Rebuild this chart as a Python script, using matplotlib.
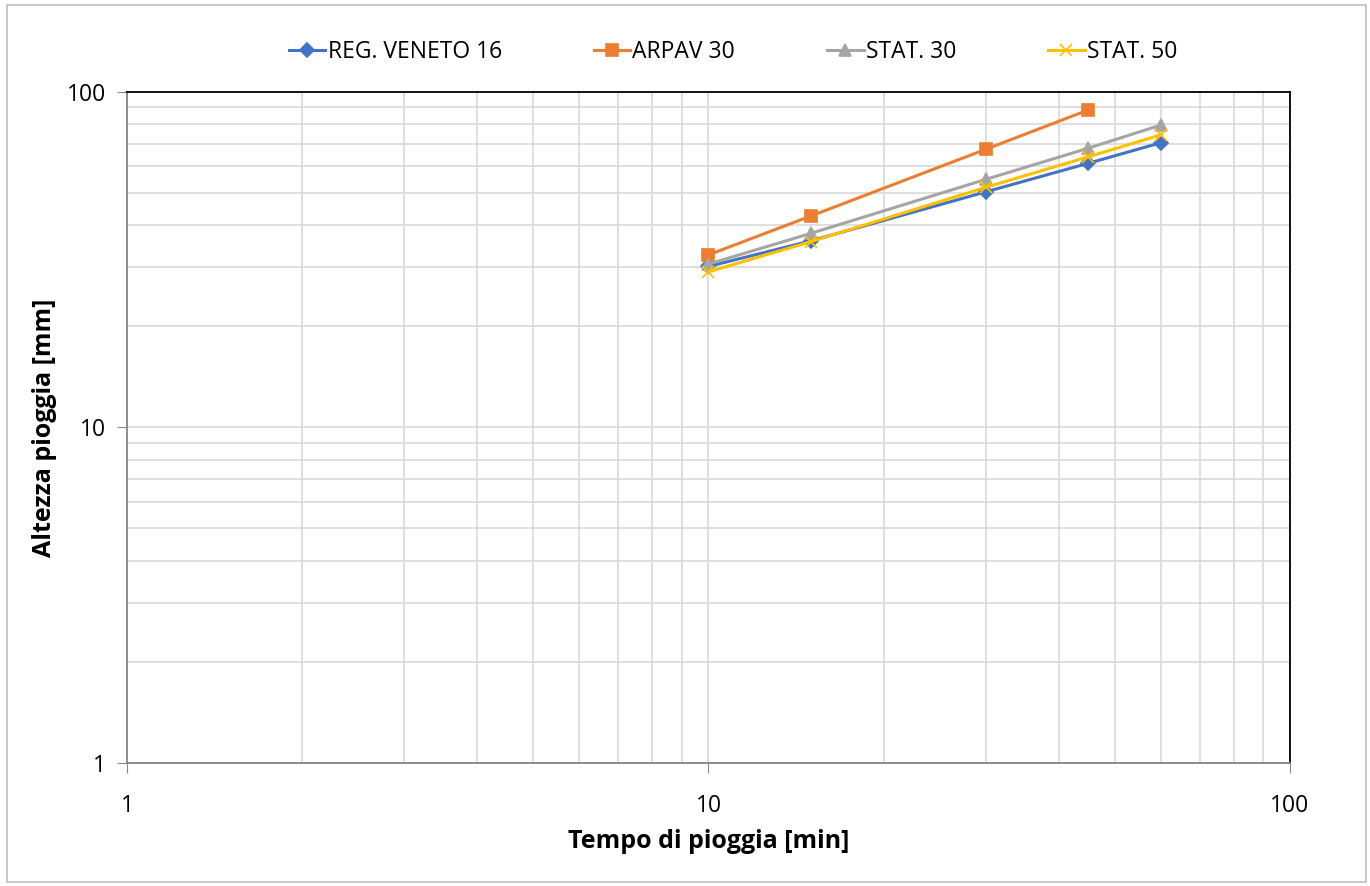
import matplotlib
matplotlib.use('Agg')
import matplotlib.pyplot as plt
from matplotlib.ticker import FixedLocator, NullFormatter, FixedFormatter
from matplotlib.patches import Rectangle

# - - - - - - - - - - Data - - - - - - - - - - #
tempo = [10, 15, 30, 45, 60]

reg_veneto_16 = [30.2, 36.0, 50.4, 61.3, 70.6]
arpav_30 = [32.7, 42.7, 67.5, 88.4]
stat_30 = [30.7, 37.9, 54.9, 68.0, 79.7]
stat_50 = [29.1, 35.8, 52.0, 64.1, 74.5]

series_names = ['REG. VENETO 16', 'ARPAV 30', 'STAT. 30', 'STAT. 50']
series_colors = ['#4472C4', '#ED7D31', '#A5A5A5', '#FFC000']
series_markers = ['D', 's', '^', 'x']

plt.rcParams['font.family'] = ['Open Sans', 'DejaVu Sans']

fig = plt.figure(figsize=(13.7, 8.86), dpi=100)
ax = fig.add_axes([0.0927, 0.1388, 0.8489, 0.7574])

# outer chart frame
fig.patches.append(Rectangle((0.005, 0.004), 0.992, 0.99, transform=fig.transFigure,
                             fill=False, edgecolor='#BFBFBF', linewidth=1.2))

all_y = [reg_veneto_16, arpav_30, stat_30, stat_50]
sizes = {'D': 7.5, 's': 8.5, '^': 8.5, 'x': 8.5}
for name, ys, c, m in zip(series_names, all_y, series_colors, series_markers):
    ax.plot(tempo[:len(ys)], ys, color=c, marker=m, markersize=sizes[m], linewidth=2.2,
            label=name, markeredgewidth=1.2)

ax.set_xscale('log')
ax.set_yscale('log')
ax.set_xlim(1, 100)
ax.set_ylim(1, 100)

# grid
minor = [k * 10 ** e for e in (0, 1) for k in range(2, 10)]
ax.xaxis.set_major_locator(FixedLocator([1, 10, 100]))
ax.yaxis.set_major_locator(FixedLocator([1, 10, 100]))
ax.xaxis.set_major_formatter(FixedFormatter(['1', '10', '100']))
ax.yaxis.set_major_formatter(FixedFormatter(['1', '10', '100']))
ax.xaxis.set_minor_locator(FixedLocator(minor))
ax.yaxis.set_minor_locator(FixedLocator(minor))
ax.xaxis.set_minor_formatter(NullFormatter())
ax.yaxis.set_minor_formatter(NullFormatter())
ax.grid(True, which='both', color='#D9D9D9', linewidth=1.2)
ax.set_axisbelow(True)

ax.tick_params(which='major', length=7, color='#868686', labelsize=16.5, pad=8)
ax.tick_params(axis='x', which='major', pad=15)
ax.tick_params(which='minor', length=0)

ax.spines['left'].set_color('#868686')
ax.spines['bottom'].set_color('#868686')
ax.spines['top'].set_color('black')
ax.spines['right'].set_color('black')
for s in ax.spines.values():
    s.set_linewidth(1.3)

ax.set_xlabel('Tempo di pioggia [min]', fontsize=18, fontweight='bold', labelpad=8)
ax.set_ylabel('Altezza pioggia [mm]', fontsize=18, fontweight='bold', labelpad=7)

fig.legend(loc='center', bbox_to_anchor=(0.535, 0.941), ncol=4, frameon=False,
           fontsize=16.5, handlelength=1.6, columnspacing=4.0, handletextpad=0.1)

fig.savefig('out.png', dpi=100, facecolor='white')
